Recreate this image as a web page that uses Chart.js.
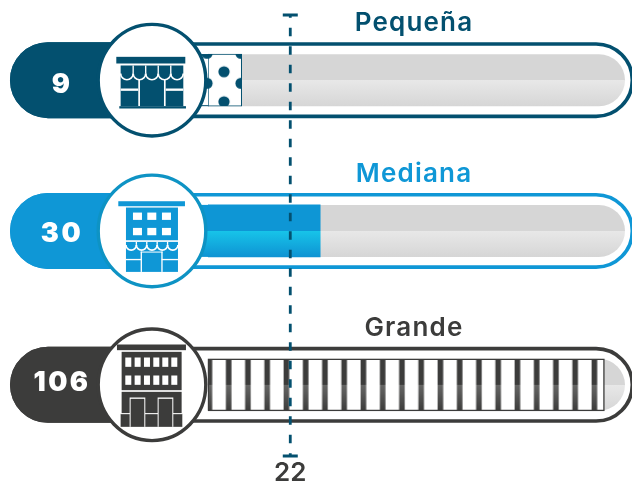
<!DOCTYPE html>
<html>
<head>
<meta charset="utf-8">
<script src="https://cdn.jsdelivr.net/npm/chart.js@4"></script>
<style>
  html, body { margin: 0; padding: 0; background: #fff; }
  canvas { display: block; }
</style>
</head>
<body>
<canvas id="chart" width="632" height="483"></canvas>
<script>
const categories = ['Pequeña', 'Mediana', 'Grande'];
const values = [9, 30, 106];
const average = 22;
const averageLabels = ['22'];
const rowColors = ['#03506f', '#0f97d6', '#3c3c3b'];
const ringColors = ['#03506f', '#0e93c4', '#3c3c3b'];

const FONT = '"Inter", "Open Sans", sans-serif';
const BAR_H = 52;
const rowNudge = [0, -1.6, 0];
const numberBaseline = [12.7, 11, 6.3];
const CIRCLE_X = 152;

function rowY(chart, i) {
  return chart.scales.y.getPixelForValue(i) + rowNudge[i];
}

function halfGradient(ctx, y, top, mid, bottom) {
  const g = ctx.createLinearGradient(0, y - BAR_H / 2, 0, y + BAR_H / 2);
  g.addColorStop(0, top);
  g.addColorStop(0.5, top);
  g.addColorStop(0.5, mid);
  g.addColorStop(1, bottom);
  return g;
}

function dotsPattern(chart, y) {
  const tile = document.createElement('canvas');
  tile.width = 34;
  tile.height = 30;
  const t = tile.getContext('2d');
  t.fillStyle = '#fff';
  t.fillRect(0, 0, 34, 30);
  t.fillStyle = rowColors[0];
  [[17, 2], [17, 32], [0, 13.5], [34, 13.5]].forEach(d => {
    t.beginPath();
    t.arc(d[0], d[1], 5.6, 0, Math.PI * 2);
    t.fill();
  });
  const p = chart.ctx.createPattern(tile, 'repeat');
  p.setTransform(new DOMMatrix().translate(207, y - 26 + 15.6));
  return p;
}

function stripesPattern(chart, y) {
  const tile = document.createElement('canvas');
  tile.width = 77;
  tile.height = BAR_H;
  const t = tile.getContext('2d');
  t.fillStyle = '#fff';
  t.fillRect(0, 0, 77, BAR_H);
  const g = t.createLinearGradient(0, 0, 0, BAR_H);
  g.addColorStop(0, '#3c3c3b');
  g.addColorStop(0.5, '#3c3c3b');
  g.addColorStop(0.5, '#666665');
  g.addColorStop(1, '#3c3c3b');
  t.fillStyle = g;
  for (let i = 0; i < 4; i++) t.fillRect(i * 19.25, 0, 5.6, BAR_H);
  const p = chart.ctx.createPattern(tile, 'repeat');
  p.setTransform(new DOMMatrix().translate(206.6, y - BAR_H / 2));
  return p;
}

function barFill(c) {
  const chart = c.chart;
  if (!chart.scales.y) return '#fff';
  const y = rowY(chart, c.dataIndex);
  if (c.dataIndex === 0) return dotsPattern(chart, y);
  if (c.dataIndex === 1) return halfGradient(chart.ctx, y, '#0e96d5', '#17c4e9', '#0e93d3');
  return stripesPattern(chart, y);
}

// icons are drawn at 3x units around the circle centre
function box(ctx, x0, y0, x1, y1, color) {
  ctx.fillStyle = color;
  ctx.fillRect(x0, y0, x1 - x0, y1 - y0);
}

// white scalloped awning edge on top of a dark block
function awning(ctx, x0, x1, yTop, yArc, n) {
  const w = (x1 - x0) / n;
  ctx.strokeStyle = '#fff';
  ctx.lineWidth = 5;
  for (let i = 0; i < n; i++) {
    ctx.beginPath();
    ctx.arc(x0 + w * (i + 0.5), yArc, w / 2, 0, Math.PI);
    ctx.stroke();
    if (i > 0) box(ctx, x0 + w * i - 2, yTop, x0 + w * i + 2, yArc, '#fff');
  }
}

function drawShop(ctx, c) {
  box(ctx, -108, -70, 99, -50, c);
  box(ctx, -95, -44, 93, 78, c);
  awning(ctx, -95, 93, -44, -20, 5);
  box(ctx, -95, 25, -42, 32, '#fff');
  box(ctx, 40, 25, 93, 32, '#fff');
  box(ctx, -42, -2, -37, 78, '#fff');
  box(ctx, 35, -2, 40, 78, '#fff');
  box(ctx, -99, 78, 101, 85, c);
}

function drawHotel(ctx, c) {
  box(ctx, -102, -89, 98, -74, c);
  box(ctx, -79, -70, 77, 28, c);
  [-58, -15, 29].forEach(x => {
    box(ctx, x, -55, x + 27, -33, '#fff');
    box(ctx, x, -9, x + 27, 13, '#fff');
  });
  box(ctx, -79, 33, 77, 123, c);
  awning(ctx, -79, 77, 33, 42, 5);
  box(ctx, -79, 84, -32, 88, '#fff');
  box(ctx, 28, 84, 77, 88, '#fff');
  box(ctx, -35, 62, -31, 123, '#fff');
  box(ctx, 27, 62, 31, 123, '#fff');
  box(ctx, -35, 62, 31, 65, '#fff');
}

function drawOffice(ctx, c) {
  box(ctx, -106, -121, 101, -104, c);
  box(ctx, -92, -99, 88, 16, c);
  [-81, -53, -25, 3, 30, 57].forEach(x => {
    box(ctx, x, -82, x + 18, -54, '#fff');
    box(ctx, x, -28, x + 18, 0, '#fff');
  });
  box(ctx, -92, 21, 88, 86, c);
  box(ctx, -95, 87, 90, 126, c);
  box(ctx, -95, 85, 90, 88, '#fff');
  [-65, 19].forEach(x => {
    box(ctx, x - 3, 38, x + 44, 126, '#fff');
    box(ctx, x, 42, x + 41, 126, c);
  });
}

const icons = [drawShop, drawHotel, drawOffice];

const rowsPlugin = {
  id: 'rows',
  afterDatasetsUpdate(chart) {
    chart.getDatasetMeta(0).data.forEach((bar, i) => { bar.y += rowNudge[i]; });
  },
  beforeDatasetsDraw(chart) {
    const ctx = chart.ctx;
    const x0 = chart.scales.x.getPixelForValue(0) - 1;
    const xEnd = chart.chartArea.right;
    categories.forEach((name, i) => {
      const y = rowY(chart, i);
      ctx.save();
      ctx.strokeStyle = rowColors[i];
      ctx.lineWidth = 3.6;
      ctx.beginPath();
      ctx.roundRect(11.8, y - 36.2, 620.5, 72.4, 36.2);
      ctx.stroke();
      ctx.fillStyle = rowColors[i];
      ctx.beginPath();
      ctx.roundRect(10, y - 38, 120, 76, [38, 0, 0, 38]);
      ctx.fill();
      ctx.fillStyle = halfGradient(ctx, y, '#d6d6d6', '#e8e8e8', '#d6d6d6');
      ctx.beginPath();
      ctx.roundRect(x0, y - BAR_H / 2, xEnd - x0, BAR_H, [0, BAR_H / 2, BAR_H / 2, 0]);
      ctx.fill();
      // first two bars run on behind the circle
      if (i < 2) {
        ctx.fillStyle = barFill({ chart, dataIndex: i });
        ctx.fillRect(190, y - BAR_H / 2, x0 - 190 + 2, BAR_H);
      }
      if (i === 0) {
        ctx.fillStyle = rowColors[0];
        ctx.fillRect(190, y - BAR_H / 2, x0 - 190 + 2, 1);
        ctx.fillRect(190, y + BAR_H / 2 - 1, x0 - 190 + 2, 1);
      }
      ctx.restore();
    });
  },
  afterDatasetsDraw(chart) {
    const ctx = chart.ctx;
    const ax = chart.scales.x.getPixelForValue(average);
    categories.forEach((name, i) => {
      const y = rowY(chart, i);
      ctx.save();
      ctx.fillStyle = '#fff';
      ctx.strokeStyle = ringColors[i];
      ctx.lineWidth = 3.4;
      ctx.beginPath();
      ctx.ellipse(CIRCLE_X, y, 53.8, 55.8, 0, 0, Math.PI * 2);
      ctx.fill();
      ctx.stroke();

      ctx.translate(CIRCLE_X + 0.3, y);
      ctx.scale(1 / 3, 1 / 3);
      icons[i](ctx, rowColors[i]);
      ctx.restore();

      ctx.save();
      ctx.fillStyle = '#fff';
      ctx.font = '900 27px ' + FONT;
      ctx.letterSpacing = '2.5px';
      ctx.textAlign = 'center';
      ctx.textBaseline = 'alphabetic';
      ctx.fillText(String(values[i]), 62, y + numberBaseline[i]);
      ctx.restore();

      ctx.save();
      ctx.fillStyle = rowColors[i];
      ctx.font = '600 26px ' + FONT;
      ctx.letterSpacing = '1.2px';
      ctx.textAlign = 'center';
      ctx.textBaseline = 'middle';
      ctx.fillText(name, 414, y - 57);
      ctx.restore();
    });

    ctx.save();
    ctx.strokeStyle = rowColors[0];
    ctx.lineWidth = 2.8;
    ctx.setLineDash([8.5, 10]);
    ctx.lineDashOffset = 5.7;
    ctx.beginPath();
    ctx.moveTo(ax, 15);
    ctx.lineTo(ax, 456);
    ctx.stroke();
    ctx.setLineDash([]);
    ctx.beginPath();
    ctx.moveTo(ax - 7.5, 15);
    ctx.lineTo(ax + 7.5, 15);
    ctx.moveTo(ax - 7.5, 456);
    ctx.lineTo(ax + 7.5, 456);
    ctx.stroke();
    ctx.restore();
  }
};

new Chart(document.getElementById('chart').getContext('2d'), {
  type: 'bar',
  data: {
    labels: categories,
    datasets: [{
      data: values,
      backgroundColor: barFill,
      borderColor: c => (c.dataIndex === 1 ? 'rgba(0,0,0,0)' : rowColors[c.dataIndex]),
      borderWidth: c => [1, 0, 1.5][c.dataIndex],
      borderSkipped: false,
      barThickness: BAR_H
    }]
  },
  options: {
    indexAxis: 'y',
    responsive: false,
    animation: false,
    layout: { padding: { left: 208, right: 7, top: 4, bottom: 0 } },
    plugins: { legend: { display: false }, tooltip: { enabled: false } },
    scales: {
      x: {
        min: 0,
        max: 111.5,
        grid: { display: false, drawTicks: false },
        border: { display: false },
        afterBuildTicks(scale) { scale.ticks = [{ value: average }]; },
        afterFit(scale) { scale.height = 22; },
        ticks: {
          autoSkip: false,
          maxRotation: 0,
          padding: -3,
          color: '#3c3c3b',
          font: { family: FONT, size: 26, weight: '600' },
          callback: () => averageLabels[0]
        }
      },
      y: { display: false }
    }
  },
  plugins: [rowsPlugin]
});
</script>
</body>
</html>
